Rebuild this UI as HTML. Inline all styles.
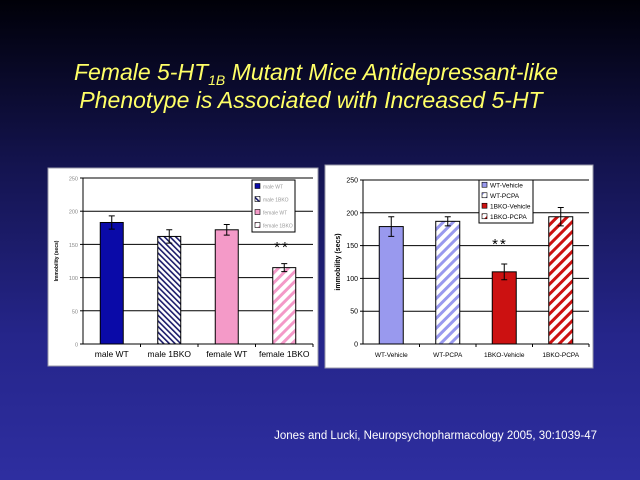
<!DOCTYPE html>
<html><head><meta charset="utf-8"><style>
html,body{margin:0;padding:0;}
body{width:640px;height:480px;overflow:hidden;background:linear-gradient(180deg,#000008 0%,#141450 35%,#25258a 70%,#2e2ea0 100%);font-family:"Liberation Sans",sans-serif;}
</style></head><body>
<svg id="slide" width="640" height="480" xmlns="http://www.w3.org/2000/svg" style="position:absolute;left:0;top:0">
<defs>
<pattern id="hatchNavy" patternUnits="userSpaceOnUse" width="4" height="4" patternTransform="rotate(-45)"><rect width="4" height="4" fill="#fff"/><rect width="1.6" height="4" fill="#1a1a6a"/></pattern>
<pattern id="hatchPink" patternUnits="userSpaceOnUse" width="7" height="7" patternTransform="rotate(45)"><rect width="7" height="7" fill="#fff"/><rect width="3" height="7" fill="#f49ac8"/></pattern>
<pattern id="hatchLav" patternUnits="userSpaceOnUse" width="7" height="7" patternTransform="rotate(45)"><rect width="7" height="7" fill="#fff"/><rect width="3" height="7" fill="#9999ee"/></pattern>
<pattern id="hatchRed" patternUnits="userSpaceOnUse" width="7" height="7" patternTransform="rotate(45)"><rect width="7" height="7" fill="#fff"/><rect width="3" height="7" fill="#cc1111"/></pattern>
</defs>
<text x="316" y="80" text-anchor="middle" font-size="23" font-style="italic" fill="#ffff66">Female 5-HT<tspan font-size="14" dy="5">1B</tspan><tspan dy="-5"> Mutant Mice Antidepressant-like</tspan></text>
<text x="311" y="108" text-anchor="middle" font-size="23" font-style="italic" fill="#ffff66">Phenotype  is Associated with Increased 5-HT</text>
<text x="597" y="439" text-anchor="end" font-size="11.5" fill="#ffffff">Jones and Lucki, Neuropsychopharmacology 2005, 30:1039-47</text>
<g id="chart1"></g>
<g id="chart2"></g>
</svg>
<script>
const cats1 = ["male WT","male 1BKO","female WT","female 1BKO"];
const vals1 = [183,162,172,115];
const errs1 = [10,10,8,6];
const legend1 = ["male WT","male 1BKO","female WT","female 1BKO"];
const cats2 = ["WT-Vehicle","WT-PCPA","1BKO-Vehicle","1BKO-PCPA"];
const vals2 = [179,187,110,194];
const errs2 = [15,7,12,14];
const legend2 = ["WT-Vehicle","WT-PCPA","1BKO-Vehicle","1BKO-PCPA"];
const ticks = [0,50,100,150,200,250];
const NS="http://www.w3.org/2000/svg";
function mk(parent,tag,attrs,txt){const e=document.createElementNS(NS,tag);for(const k in attrs)e.setAttribute(k,attrs[k]);if(txt!==undefined)e.textContent=txt;parent.appendChild(e);return e;}
function draw(cfg){
  const g=document.getElementById(cfg.id);
  const p=mk(g,'rect',{x:cfg.px,y:cfg.py,width:cfg.pw,height:cfg.ph,fill:'#fff',stroke:'#9999aa'});
  
  const y=v=>cfg.y0-(v/250)*(cfg.y0-cfg.yt);
  const cw=(cfg.xr-cfg.x0)/cfg.cats.length;
  ticks.forEach(t=>{
    if(t>0){const l=mk(g,'line',{x1:cfg.x0,x2:cfg.xr,y1:y(t),y2:y(t),stroke:'#000','stroke-width':1});
    }
    const tl=mk(g,'text',{x:cfg.x0-5,y:y(t)+2.5,'text-anchor':'end','font-size':cfg.tfs,fill:cfg.tcol},String(t));
    
    mk(g,'line',{x1:cfg.x0-3,x2:cfg.x0,y1:y(t),y2:y(t),stroke:'#000'});
  });
  const ax=mk(g,'line',{x1:cfg.x0,x2:cfg.x0,y1:cfg.yt,y2:cfg.y0,stroke:'#000'});
  
  const xa=mk(g,'line',{x1:cfg.x0,x2:cfg.xr,y1:cfg.y0,y2:cfg.y0,stroke:'#000'});
  
  cfg.cats.forEach((c,i)=>{
    const cx=cfg.x0+cw*(i+0.5);
    mk(g,'line',{x1:cfg.x0+cw*(i+1),x2:cfg.x0+cw*(i+1),y1:cfg.y0,y2:cfg.y0+3,stroke:'#000'});
    const b=mk(g,'rect',{x:cx-cfg.bw/2,y:y(cfg.vals[i]),width:cfg.bw,height:cfg.y0-y(cfg.vals[i]),fill:cfg.fills[i],stroke:'#000','stroke-width':1});
    
    const e=cfg.errs[i],v=cfg.vals[i];
    const eb=mk(g,'path',{d:`M${cx},${y(v+e)}V${y(v-e)}M${cx-3},${y(v+e)}H${cx+3}M${cx-3},${y(v-e)}H${cx+3}`,stroke:'#000',fill:'none'});
    
    const xl=mk(g,'text',{x:cx,y:cfg.y0+13,'text-anchor':'middle','font-size':cfg.xfs,fill:'#000'},c);
    
  });
  const yt=mk(g,'text',{x:0,y:0,'text-anchor':'middle','font-size':cfg.yfs,'font-weight':'bold',fill:'#000',transform:`translate(${cfg.ytx},${(cfg.y0+cfg.yt)/2}) rotate(-90)`},cfg.ytitle);
  
  const lg=mk(g,'rect',{x:cfg.lx,y:cfg.ly,width:cfg.lw,height:cfg.lh,fill:'#fff',stroke:'#000'});
  
  cfg.legend.forEach((t,i)=>{
    const yy=cfg.ly+cfg.lstep*(i+0.5)+1;
    const sw=mk(g,'rect',{x:cfg.lx+3,y:yy-4,width:5,height:5,fill:cfg.fills[i],stroke:'#000','stroke-width':0.6});
    
    const tx=mk(g,'text',{x:cfg.lx+11,y:yy+1,'font-size':cfg.lfs,fill:cfg.lcol},t);
    
  });
  const st=mk(g,'text',{x:cfg.sx,y:cfg.sy,'text-anchor':'middle','font-size':15,fill:'#000','letter-spacing':'2'},'**');
  
}
draw({id:'chart1',px:48,py:168,pw:270,ph:198,x0:83,xr:313,yt:178,y0:344,bw:23,cats:cats1,vals:vals1,errs:errs1,legend:legend1,
  fills:['#0a0aa8','url(#hatchNavy)','#f49ac8','url(#hatchPink)'],tfs:5.5,tcol:'#888',xfs:8.5,yfs:5,ytx:58,ytitle:'Immobility (secs)',
  lx:252,ly:180,lw:43,lh:52,lstep:13,lfs:5,lcol:'#999',sx:282,sy:252});
draw({id:'chart2',px:325,py:165,pw:268,ph:203,x0:363,xr:589,yt:180,y0:344,bw:24,cats:cats2,vals:vals2,errs:errs2,legend:legend2,
  fills:['#9999ee','url(#hatchLav)','#cc1111','url(#hatchRed)'],tfs:7,tcol:'#000',xfs:6.5,yfs:7,ytx:340,ytitle:'immobility (secs)',
  lx:479,ly:180,lw:54,lh:43,lstep:10.5,lfs:6.5,lcol:'#000',sx:500,sy:249});
</script>
</body></html>
